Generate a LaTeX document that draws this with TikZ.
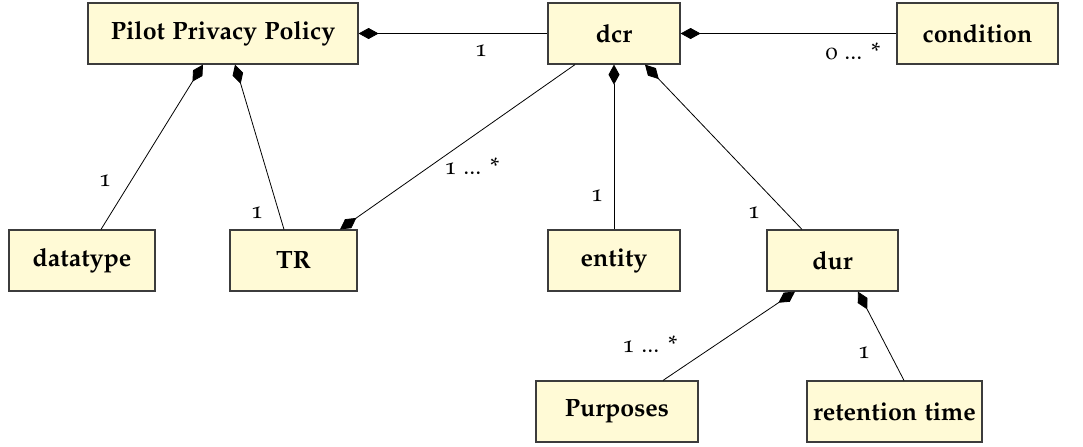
\documentclass[tikz,border=0pt]{standalone}
\usepackage[T1]{fontenc}
\usepackage[osf]{mathpazo}
\usetikzlibrary{arrows.meta}
\definecolor{boxfill}{RGB}{255,250,214}
\definecolor{boxline}{RGB}{60,60,60}
\tikzset{
  cls/.style={draw=boxline, line width=0.6pt, fill=boxfill, minimum height=30.5pt, inner sep=0pt,
    font=\fontsize{12.5}{15}\selectfont\bfseries},
  comp/.style={draw=black, line width=0.4pt, {Diamond[length=10pt,width=5.5pt]}-},
  mult/.style={font=\fontsize{12}{14}\selectfont, inner sep=0pt}
}
\begin{document}
\begin{tikzpicture}[x=0.5pt,y=-0.5pt]
\useasboundingbox (0,0) rectangle (1083,446);
% classes
\node[cls, minimum width=135pt] (ppp) at (223,33.5) {Pilot Privacy Policy};
\node[cls, minimum width=66pt] (dcr) at (614,33.5) {dcr};
\node[cls, minimum width=80.5pt] (cond) at (977.5,33.5) {condition};
\node[cls, minimum width=73pt] (dtype) at (82,260.5) {datatype};
\node[cls, minimum width=63.5pt] (tr) at (293.5,260.5) {TR};
\node[cls, minimum width=66pt] (ent) at (614,260.5) {entity};
\node[cls, minimum width=65.5pt] (dur) at (832.5,260.5) {dur};
\node[cls, minimum width=81pt] (purp) at (617,411.5) {Purposes};
\node[cls, minimum width=87.5pt] (ret) at (894.5,411.5) {retention time};
% composition connectors
\draw[comp] (ppp.east) -- (dcr.west);
\draw[comp] (dcr.east) -- (cond.west);
\draw[comp] ([xshift=-10pt]ppp.south) -- ([xshift=9.5pt]dtype.north);
\draw[comp] ([xshift=6pt]ppp.south) -- ([xshift=-4.75pt]tr.north);
\draw[comp] ([xshift=23.25pt]tr.north) -- ([xshift=-19.5pt]dcr.south);
\draw[comp] (dcr.south) -- (ent.north);
\draw[comp] ([xshift=15.5pt]dcr.south) -- ([xshift=-15.25pt]dur.north);
\draw[comp] ([xshift=-18.75pt]dur.south) -- ([xshift=23pt]purp.north);
\draw[comp] ([xshift=12.75pt]dur.south) -- ([xshift=4.75pt]ret.north);
% multiplicities
\node[mult] (m1) at (481,51) {1};
\node[mult] (m2) at (853,51) {0 ... *};
\node[mult] (m3) at (105,181) {1};
\node[mult] (m4) at (257,213) {1};
\node[mult] (m5) at (472,166) {1 ... *};
\node[mult] (m6) at (597,196) {1};
\node[mult] (m7) at (754,213) {1};
\node[mult] (m8) at (650,344) {1 ... *};
\node[mult] (m9) at (864,353) {1};
\end{tikzpicture}
\end{document}
